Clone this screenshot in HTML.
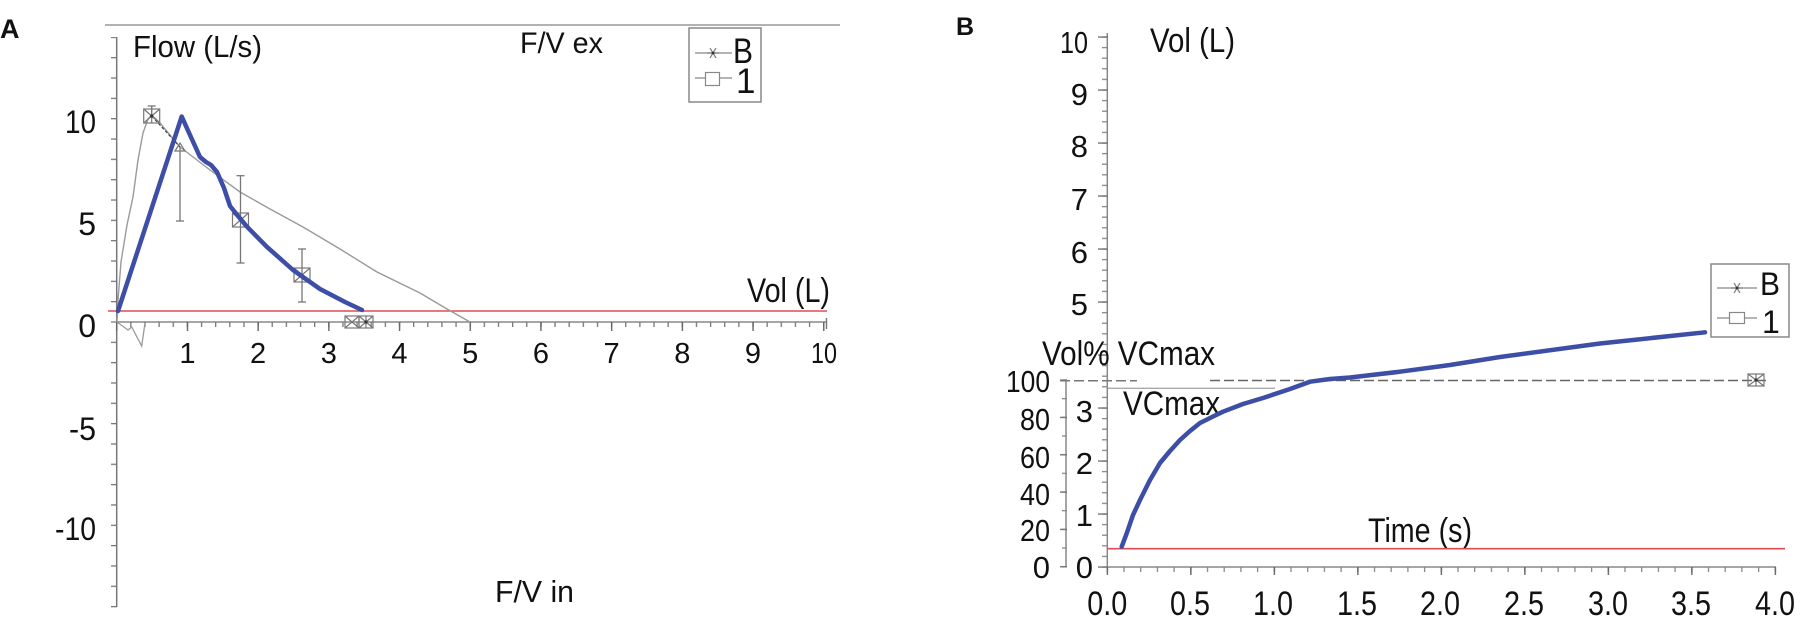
<!DOCTYPE html>
<html>
<head>
<meta charset="utf-8">
<style>
  html, body { margin: 0; padding: 0; background: #fff; }
  body { width: 1800px; height: 631px; overflow: hidden; }
  svg { display: block; }
  text { font-family: "Liberation Sans", Arial, sans-serif; fill: #111; }
</style>
</head>
<body>
<svg width="1800" height="631" viewBox="0 0 1800 631" xmlns="http://www.w3.org/2000/svg">
  <defs>
    <pattern id="lxm" patternUnits="userSpaceOnUse" x="116.05" y="322" width="14.14" height="5">
      <rect x="0" y="0" width="1.3" height="5" fill="#777"/>
    </pattern>
    <pattern id="lxM" patternUnits="userSpaceOnUse" x="116.05" y="322" width="70.7" height="9">
      <rect x="0" y="0" width="1.4" height="9" fill="#666"/>
    </pattern>
    <pattern id="lyt" patternUnits="userSpaceOnUse" x="111" y="321.35" width="6" height="20.33">
      <rect x="0" y="0" width="6" height="1.3" fill="#777"/>
    </pattern>
    <pattern id="rym" patternUnits="userSpaceOnUse" x="1102" y="566.35" width="6" height="10.6">
      <rect x="0" y="0" width="6" height="1.3" fill="#888"/>
    </pattern>
    <pattern id="ryM" patternUnits="userSpaceOnUse" x="1098" y="566.35" width="10" height="53">
      <rect x="0" y="0" width="10" height="1.4" fill="#777"/>
    </pattern>
    <pattern id="rpm" patternUnits="userSpaceOnUse" x="1062" y="566.05" width="5" height="18.67">
      <rect x="0" y="0" width="5" height="1.3" fill="#888"/>
    </pattern>
    <pattern id="rpM" patternUnits="userSpaceOnUse" x="1060" y="566.05" width="7" height="37.33">
      <rect x="0" y="0" width="7" height="1.4" fill="#777"/>
    </pattern>
    <pattern id="rtm" patternUnits="userSpaceOnUse" x="1106.65" y="567" width="16.7" height="5">
      <rect x="0" y="0" width="1.3" height="5" fill="#888"/>
    </pattern>
    <pattern id="rtM" patternUnits="userSpaceOnUse" x="1106.65" y="567" width="83.5" height="8">
      <rect x="0" y="0" width="1.4" height="8" fill="#666"/>
    </pattern>
  </defs>

  <!-- ================= PANEL A ================= -->
  <text x="0" y="38" font-size="27" font-weight="bold">A</text>

  <line x1="105" y1="25" x2="840" y2="25" stroke="#999" stroke-width="1.5"/>

  <line x1="116.7" y1="37" x2="116.7" y2="607" stroke="#777" stroke-width="1.5"/>
  <rect x="111" y="37" width="6" height="571" fill="url(#lyt)"/>
  <line x1="116.7" y1="322" x2="827" y2="322" stroke="#888" stroke-width="1.5"/>
  <rect x="116" y="322" width="712" height="5" fill="url(#lxm)"/>
  <rect x="116" y="322" width="712" height="9" fill="url(#lxM)"/>
  <line x1="826.5" y1="318" x2="826.5" y2="329" stroke="#777" stroke-width="1.4"/>

  <g font-size="32" text-anchor="end">
    <text x="96" y="133" textLength="31" lengthAdjust="spacingAndGlyphs">10</text>
    <text x="96" y="235">5</text>
    <text x="96" y="337">0</text>
    <text x="96" y="440" textLength="27" lengthAdjust="spacingAndGlyphs">-5</text>
    <text x="96" y="540" textLength="41" lengthAdjust="spacingAndGlyphs">-10</text>
  </g>
  <g font-size="29" text-anchor="middle">
    <text x="187.4" y="363">1</text>
    <text x="258.1" y="363">2</text>
    <text x="328.8" y="363">3</text>
    <text x="399.5" y="363">4</text>
    <text x="470.2" y="363">5</text>
    <text x="540.9" y="363">6</text>
    <text x="611.6" y="363">7</text>
    <text x="682.3" y="363">8</text>
    <text x="753" y="363">9</text>
    <text x="824" y="363" textLength="26" lengthAdjust="spacingAndGlyphs">10</text>
  </g>

  <text x="133" y="57" font-size="31" textLength="129" lengthAdjust="spacingAndGlyphs">Flow (L/s)</text>
  <text x="520" y="53" font-size="30" textLength="83" lengthAdjust="spacingAndGlyphs">F/V ex</text>
  <text x="747" y="302" font-size="34" textLength="83" lengthAdjust="spacingAndGlyphs">Vol (L)</text>
  <text x="495" y="602" font-size="31" textLength="79" lengthAdjust="spacingAndGlyphs">F/V in</text>

  <line x1="108" y1="311" x2="827" y2="311" stroke="#e24a52" stroke-width="1.6"/>

  <polyline fill="none" stroke="#9a9a9a" stroke-width="1.4" stroke-linejoin="round"
    points="117,322 118,300 121,262 127,225 133,197 138,160 143,133 148,119 151.7,115 160,123 180,147 210,170 240,192 270,209 303,227 340,249 377,272 420,293 447,309 470,322"/>
  <polyline fill="none" stroke="#9a9a9a" stroke-width="1.3"
    points="117,322 128,330 131.7,327 141.7,346 145,323"/>
  <line x1="151.7" y1="116" x2="180" y2="147" stroke="#444" stroke-width="1.2" stroke-dasharray="3 2"/>

  <g stroke="#777" stroke-width="1.3" fill="none">
    <line x1="151.7" y1="106" x2="151.7" y2="116"/><line x1="147.7" y1="106" x2="155.7" y2="106"/>
    <line x1="180" y1="147" x2="180" y2="221"/><line x1="176" y1="221" x2="184" y2="221"/>
    <line x1="240.5" y1="175.7" x2="240.5" y2="263"/><line x1="236.5" y1="175.7" x2="244.5" y2="175.7"/><line x1="236.5" y1="263" x2="244.5" y2="263"/>
    <line x1="302" y1="249" x2="302" y2="302"/><line x1="298" y1="249" x2="306" y2="249"/><line x1="298" y1="302" x2="306" y2="302"/>
  </g>

  <g stroke="#777" stroke-width="1.2" fill="none">
    <g transform="translate(151.7,116)"><rect x="-8" y="-7" width="16" height="14"/><path d="M-8,-7 L8,7 M8,-7 L-8,7 M0,-7 V7"/></g>
    <g transform="translate(240.5,220)"><rect x="-8" y="-7" width="16" height="14"/><path d="M-8,-7 L8,7 M8,-7 L-8,7"/></g>
    <g transform="translate(302,275)"><rect x="-8" y="-7" width="16" height="14"/><path d="M-8,-7 L8,7 M8,-7 L-8,7"/></g>
    <g transform="translate(352,322)"><rect x="-7" y="-6" width="14" height="12"/><path d="M-7,-6 L7,6 M7,-6 L-7,6"/></g>
    <g transform="translate(366,322)"><rect x="-7" y="-6" width="14" height="12"/><path d="M-7,-6 L7,6 M7,-6 L-7,6 M0,-6 V6"/></g>
    <path d="M175,151 L180,143 L185,151 Z"/>
  </g>
  <circle cx="151.7" cy="116" r="1.6" fill="#333"/>
  <circle cx="366" cy="322" r="1.6" fill="#333"/>

  <polyline fill="none" stroke="#3d4ea6" stroke-width="4.5" stroke-linejoin="round" stroke-linecap="round"
    points="118,311 181.7,116.5 190,135 200,157 206,162 211,165 217,172 224,188 230,206 238,216 247,226.7 266.7,246.7 293,270 320,289 345,302 362,310"/>

  <rect x="689" y="28" width="72" height="74" fill="#fff" stroke="#888" stroke-width="1.5"/>
  <line x1="695" y1="53" x2="732" y2="53" stroke="#888" stroke-width="1.2"/>
  <g stroke="#777" stroke-width="1.2">
    <line x1="707" y1="53" x2="719" y2="53"/>
    <line x1="710" y1="48" x2="716" y2="58"/>
    <line x1="716" y1="48" x2="710" y2="58"/>
  </g>
  <circle cx="713" cy="53" r="1.4" fill="#333"/>
  <text x="733" y="63" font-size="35" textLength="20" lengthAdjust="spacingAndGlyphs">B</text>
  <line x1="695" y1="78" x2="732" y2="78" stroke="#888" stroke-width="1.2"/>
  <rect x="705.5" y="72.5" width="14" height="13" fill="#fff" stroke="#888" stroke-width="1.2"/>
  <text x="736" y="93" font-size="35">1</text>

  <!-- ================= PANEL B ================= -->
  <text x="956" y="35" font-size="25" font-weight="bold">B</text>

  <line x1="1107.3" y1="33" x2="1107.3" y2="567" stroke="#888" stroke-width="1.5"/>
  <rect x="1102" y="32" width="6" height="536" fill="url(#rym)"/>
  <rect x="1098" y="32" width="10" height="536" fill="url(#ryM)"/>
  <line x1="1066" y1="380" x2="1066" y2="567" stroke="#888" stroke-width="1.5"/>
  <rect x="1062" y="379" width="5" height="189" fill="url(#rpm)"/>
  <rect x="1060" y="379" width="7" height="189" fill="url(#rpM)"/>
  <line x1="1107" y1="567" x2="1776" y2="567" stroke="#888" stroke-width="1.5"/>
  <rect x="1106" y="567" width="671" height="5" fill="url(#rtm)"/>
  <rect x="1106" y="567" width="671" height="8" fill="url(#rtM)"/>

  <g font-size="31" text-anchor="end">
    <text x="1088" y="53" textLength="28" lengthAdjust="spacingAndGlyphs">10</text>
    <text x="1088" y="105">9</text>
    <text x="1088" y="157">8</text>
    <text x="1088" y="210">7</text>
    <text x="1088" y="263">6</text>
    <text x="1088" y="315">5</text>
  </g>
  <g font-size="31" text-anchor="end">
    <text x="1093" y="422">3</text>
    <text x="1093" y="474">2</text>
    <text x="1093" y="526">1</text>
    <text x="1093" y="578">0</text>
  </g>
  <g font-size="31" text-anchor="end">
    <text x="1050" y="392" textLength="44" lengthAdjust="spacingAndGlyphs">100</text>
    <text x="1050" y="430" textLength="30" lengthAdjust="spacingAndGlyphs">80</text>
    <text x="1050" y="468" textLength="30" lengthAdjust="spacingAndGlyphs">60</text>
    <text x="1050" y="505" textLength="30" lengthAdjust="spacingAndGlyphs">40</text>
    <text x="1050" y="541" textLength="30" lengthAdjust="spacingAndGlyphs">20</text>
    <text x="1050" y="578">0</text>
  </g>
  <g font-size="34" text-anchor="middle">
    <text x="1107.3" y="615" textLength="40" lengthAdjust="spacingAndGlyphs">0.0</text>
    <text x="1190" y="615" textLength="40" lengthAdjust="spacingAndGlyphs">0.5</text>
    <text x="1273" y="615" textLength="40" lengthAdjust="spacingAndGlyphs">1.0</text>
    <text x="1357" y="615" textLength="40" lengthAdjust="spacingAndGlyphs">1.5</text>
    <text x="1440" y="615" textLength="40" lengthAdjust="spacingAndGlyphs">2.0</text>
    <text x="1524" y="615" textLength="40" lengthAdjust="spacingAndGlyphs">2.5</text>
    <text x="1608" y="615" textLength="40" lengthAdjust="spacingAndGlyphs">3.0</text>
    <text x="1691" y="615" textLength="40" lengthAdjust="spacingAndGlyphs">3.5</text>
    <text x="1775" y="615" textLength="40" lengthAdjust="spacingAndGlyphs">4.0</text>
  </g>

  <text x="1150" y="52" font-size="34" textLength="85" lengthAdjust="spacingAndGlyphs">Vol (L)</text>
  <text x="1368" y="542" font-size="34" textLength="104" lengthAdjust="spacingAndGlyphs">Time (s)</text>

  <line x1="1107" y1="548.7" x2="1785" y2="548.7" stroke="#e24a52" stroke-width="1.6"/>

  <line x1="1060" y1="380.7" x2="1137" y2="380.7" stroke="#777" stroke-width="1.5" stroke-dasharray="10 4"/>
  <line x1="1210" y1="380.5" x2="1770" y2="380.5" stroke="#666" stroke-width="1.5" stroke-dasharray="10 4"/>
  <line x1="1108" y1="388.3" x2="1275" y2="388.3" stroke="#aaa" stroke-width="1.4"/>

  <text x="1042" y="365" font-size="34" textLength="173" lengthAdjust="spacingAndGlyphs">Vol% VCmax</text>
  <text x="1123" y="415" font-size="34" textLength="97" lengthAdjust="spacingAndGlyphs">VCmax</text>

  <g stroke="#777" stroke-width="1.2" fill="none" transform="translate(1756,380)">
    <rect x="-8" y="-6" width="16" height="12"/><path d="M-8,-6 L8,6 M8,-6 L-8,6 M0,-6 V6"/>
  </g>
  <circle cx="1756" cy="380" r="1.6" fill="#333"/>

  <polyline fill="none" stroke="#3d4ea6" stroke-width="4.5" stroke-linejoin="round" stroke-linecap="round"
    points="1121.7,546.7 1126.7,533.3 1133,515 1140,500 1150,480 1160,463 1170,451 1180,440 1190,431 1200,423 1212,417 1223,411.7 1243,404 1263,398 1290,389 1310,381.7 1330,379 1350,377.5 1400,371.7 1450,365 1500,357 1600,343.5 1705,332.3"/>

  <rect x="1711" y="264" width="78" height="73" fill="#fff" stroke="#888" stroke-width="1.5"/>
  <line x1="1717" y1="288" x2="1757" y2="288" stroke="#888" stroke-width="1.2"/>
  <g stroke="#777" stroke-width="1.2">
    <line x1="1731" y1="288" x2="1743" y2="288"/>
    <line x1="1734" y1="283" x2="1740" y2="293"/>
    <line x1="1740" y1="283" x2="1734" y2="293"/>
  </g>
  <circle cx="1737" cy="288" r="1.4" fill="#333"/>
  <text x="1760" y="295" font-size="32" textLength="20" lengthAdjust="spacingAndGlyphs">B</text>
  <line x1="1717" y1="318" x2="1757" y2="318" stroke="#888" stroke-width="1.2"/>
  <rect x="1729.5" y="312.5" width="15" height="11" fill="#fff" stroke="#888" stroke-width="1.2"/>
  <text x="1762" y="333" font-size="32">1</text>
</svg>
</body>
</html>
